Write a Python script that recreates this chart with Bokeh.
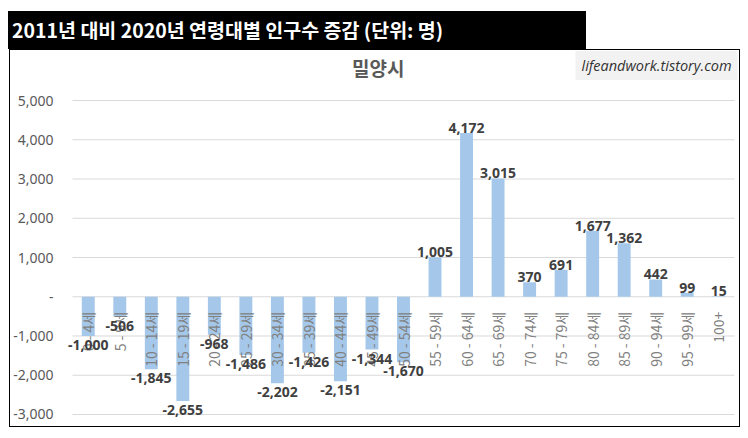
from bokeh.plotting import figure
from bokeh.models import ColumnDataSource, Range1d, FixedTicker, Div, Label
from bokeh.layouts import column
from bokeh.core.properties import value
from bokeh.embed import file_html
from bokeh.resources import INLINE
import math

# ---- data ----
categories = ["0 - 4세", "5 - 9세", "10 - 14세", "15 - 19세", "20 - 24세", "25 - 29세",
              "30 - 34세", "35 - 39세", "40 - 44세", "45 - 49세", "50 - 54세", "55 - 59세",
              "60 - 64세", "65 - 69세", "70 - 74세", "75 - 79세", "80 - 84세", "85 - 89세",
              "90 - 94세", "95 - 99세", "100+"]
changes = [-1000, -506, -1845, -2655, -968, -1486, -2202, -1426, -2151, -1344, -1670,
           1005, 4172, 3015, 370, 691, 1677, 1362, 442, 99, 15]
y_ticks = [-3000, -2000, -1000, 0, 1000, 2000, 3000, 4000, 5000]
y_tick_labels = ["-3,000", "-2,000", "-1,000", "-", "1,000", "2,000", "3,000", "4,000", "5,000"]
header_text = "2011년 대비 2020년 연령대별 인구수 증감 (단위: 명)"
chart_title = "밀양시"
watermark = "lifeandwork.tistory.com"

KR = "Noto Sans CJK KR"
n = len(categories)
xpos = [i + 0.5 for i in range(n)]

src = ColumnDataSource(dict(x=xpos, cat=categories, val=changes, zero=[0] * n))
pos = ColumnDataSource(dict(x=[x for x, v in zip(xpos, changes) if v >= 0],
                            val=[v for v in changes if v >= 0],
                            lab=[f"{v:,}" for v in changes if v >= 0]))
neg = ColumnDataSource(dict(x=[x for x, v in zip(xpos, changes) if v < 0],
                            val=[v for v in changes if v < 0],
                            lab=[f"{v:,}" for v in changes if v < 0]))
grid = ColumnDataSource(dict(y=y_ticks, x0=[0] * len(y_ticks), x1=[n] * len(y_ticks)))

header = Div(
    text=f'<div style="padding-left:4px;line-height:38px;white-space:nowrap;'
         f'font-family:\'{KR}\';font-weight:bold;font-size:19.5px;color:#fff">{header_text}</div>',
    width=578, height=38, margin=(11, 0, 0, 8),
    styles={"background-color": "#000"})

p = figure(x_range=Range1d(-0.317, 21.19), y_range=Range1d(-3254.8, 6299.4),
           width=731, height=378, output_backend="svg", toolbar_location=None,
           title=None, x_axis_location=None,
           min_border_left=53, min_border_right=0, min_border_top=0, min_border_bottom=3,
           outline_line_color=None, border_fill_color=None, background_fill_color=None,
           margin=(0, 0, 0, 9),
           styles={"outline": "1px solid #000", "outline-offset": "-1px"})

p.xgrid.grid_line_color = None
p.ygrid.grid_line_color = None
p.yaxis.ticker = FixedTicker(ticks=y_ticks)
p.yaxis.major_label_overrides = {t: l for t, l in zip(y_ticks, y_tick_labels)}
p.yaxis.axis_line_color = None
p.yaxis.major_tick_line_color = None
p.yaxis.minor_tick_line_color = None
p.yaxis.major_tick_out = 0
p.yaxis.major_tick_in = 0
p.yaxis.major_label_standoff = 9
p.yaxis.major_label_text_font = "Noto Sans"
p.yaxis.major_label_text_font_size = "14px"
p.yaxis.major_label_text_color = "#595959"

p.segment(x0="x0", x1="x1", y0="y", y1="y", source=grid, line_color="#d9d9d9", line_width=1)

p.vbar(x="x", top="val", width=0.41, source=src, fill_color="#A5C8EA", line_color=None)

p.text(x="x", y="zero", text="cat", source=src, angle=math.pi / 2,
       text_align="right", text_baseline="middle", y_offset=15,
       text_font=value(KR), text_font_size="14px", text_color="#808080")

p.text(x="x", y="val", text="lab", source=pos, text_align="center",
       text_baseline="alphabetic", y_offset=-5,
       text_font=value("Noto Sans"), text_font_size="14px", text_font_style="bold",
       text_color="#404040")
p.text(x="x", y="val", text="lab", source=neg, text_align="center",
       text_baseline="top", y_offset=4,
       text_font=value("Noto Sans"), text_font_size="14px", text_font_style="bold",
       text_color="#404040")

p.add_layout(Label(x=9.7, y=5841, text=chart_title, text_align="center",
                   text_baseline="middle", text_font=KR, text_font_style="bold",
                   text_font_size="19px", text_color="#595959"))
p.add_layout(Label(x=15.956, y=5892, text=watermark, text_baseline="middle",
                   text_font="Open Sans", text_font_style="italic", text_font_size="14.5px",
                   text_color="#333333", background_fill_color="#f2f2f2", padding=(6, 5)))

layout = column(header, p)
open("out.html", "w").write(file_html(layout, INLINE))
